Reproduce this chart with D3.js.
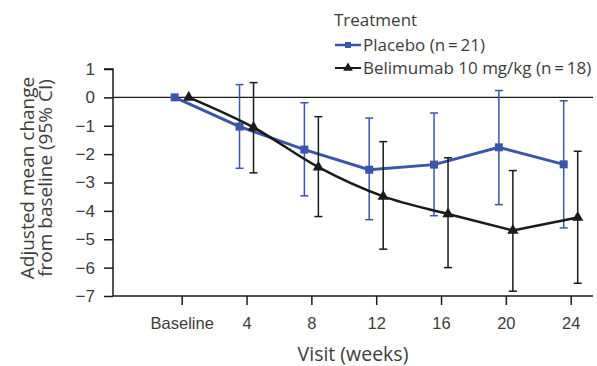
<!DOCTYPE html>
<html>
<head>
<meta charset="utf-8">
<script src="https://cdn.jsdelivr.net/npm/d3@7"></script>
<style>
  body { margin: 0; background: #fff; }
  svg { font-family: "Open Sans", sans-serif; }
</style>
</head>
<body>
<div id="chart"></div>
<script>
const visits = ["Baseline", "4", "8", "12", "16", "20", "24"];

const placeboMean = [0, -1.03, -1.84, -2.55, -2.37, -1.76, -2.36];
const placeboLow = [null, -2.5, -3.47, -4.31, -4.17, -3.78, -4.6];
const placeboHigh = [null, 0.45, -0.19, -0.73, -0.55, 0.24, -0.12];

const belimMean = [0, -1.06, -2.46, -3.49, -4.11, -4.69, -4.23];
const belimLow = [null, -2.66, -4.2, -5.35, -6.0, -6.83, -6.55];
const belimHigh = [null, 0.52, -0.68, -1.56, -2.13, -2.58, -1.9];

const yTicks = [1, 0, -1, -2, -3, -4, -5, -6, -7];

const BLUE = "#3a55a9";
const BLACK = "#1a1a1a";
const TEXT = "#3c3c3c";

const width = 597, height = 366;
const svg = d3.select("#chart").append("svg").attr("width", width).attr("height", height);

const x = d3.scalePoint().domain(visits).range([181.7, 570.7]);
const y = d3.scaleLinear().domain([-7, 1]).range([296, 69]);
const OFF = 7;

// axes
const yAxis = svg.append("g").attr("transform", "translate(113,0)")
  .call(d3.axisLeft(y).tickValues(yTicks).tickSize(9).tickPadding(9).tickFormat(d => d < 0 ? "\u2212" + Math.abs(d) : d));
yAxis.select(".domain").attr("d", "M-9," + y(1) + "H0V" + y(-7)).attr("stroke", BLACK).attr("stroke-width", 1.5);
yAxis.selectAll(".tick line").attr("stroke", BLACK).attr("stroke-width", 1.5);
yAxis.selectAll(".tick text").attr("fill", TEXT).attr("font-size", 17);

const xAxis = svg.append("g").attr("transform", "translate(0,296)")
  .call(d3.axisBottom(x).tickSize(9).tickPadding(12));
xAxis.select(".domain").attr("d", "M113,0H593").attr("stroke", BLACK).attr("stroke-width", 1.5);
xAxis.selectAll(".tick line").attr("stroke", BLACK).attr("stroke-width", 1.5);
xAxis.selectAll(".tick text").attr("fill", TEXT).attr("font-size", 16.5);

// zero line
svg.append("line").attr("x1", 113).attr("x2", 593).attr("y1", y(0)).attr("y2", y(0))
  .attr("stroke", BLACK).attr("stroke-width", 1.2);

// axis titles
svg.append("text").attr("x", 353).attr("y", 361).attr("text-anchor", "middle")
  .attr("fill", TEXT).attr("font-size", 19.5).text("Visit (weeks)");
const yt = svg.append("text").attr("transform", "translate(34,178) rotate(-90)")
  .attr("text-anchor", "middle").attr("fill", TEXT).attr("font-size", 19);
yt.append("tspan").attr("x", 0).attr("dy", 0).text("Adjusted mean change");
yt.append("tspan").attr("x", 0).attr("dy", 18).text("from baseline (95% CI)");

function series(mean, low, high, off, color, lw, curve, marker) {
  const g = svg.append("g");
  const pts = visits.map((v, i) => ({ v, m: mean[i], lo: low[i], hi: high[i] }));
  const bars = pts.filter(d => d.lo !== null);
  g.selectAll("line.eb").data(bars).enter().append("line")
    .attr("x1", d => x(d.v) + off).attr("x2", d => x(d.v) + off)
    .attr("y1", d => y(d.lo)).attr("y2", d => y(d.hi))
    .attr("stroke", color).attr("stroke-width", 1.5);
  ["lo", "hi"].forEach(k => {
    g.selectAll("line.cap" + k).data(bars).enter().append("line")
      .attr("x1", d => x(d.v) + off - 4).attr("x2", d => x(d.v) + off + 4)
      .attr("y1", d => y(d[k])).attr("y2", d => y(d[k]))
      .attr("stroke", color).attr("stroke-width", 1.5);
  });
  const line = d3.line().x(d => x(d.v) + off).y(d => y(d.m));
  if (curve) {
    // smooth through the trough, straight after it
    g.append("path").datum(pts.slice(0, 6))
      .attr("d", line.curve(d3.curveMonotoneX))
      .attr("fill", "none").attr("stroke", color).attr("stroke-width", lw);
    g.append("path").datum(pts.slice(5))
      .attr("d", line.curve(d3.curveLinear))
      .attr("fill", "none").attr("stroke", color).attr("stroke-width", lw);
  } else {
    g.append("path").datum(pts)
      .attr("d", line)
      .attr("fill", "none").attr("stroke", color).attr("stroke-width", lw);
  }
  g.selectAll("path.mk").data(pts).enter().append("path")
    .attr("d", marker)
    .attr("transform", d => `translate(${x(d.v) + off},${y(d.m)})`)
    .attr("fill", color);
}

const sq = d3.symbol(d3.symbolSquare, 64)();
const tri = d3.symbol(d3.symbolTriangle, 55)();

series(placeboMean, placeboLow, placeboHigh, -OFF, BLUE, 3, false, sq);
series(belimMean, belimLow, belimHigh, OFF, BLACK, 2.5, true, tri);

// legend
const lg = svg.append("g");
lg.append("text").attr("x", 334).attr("y", 26).attr("fill", TEXT).attr("font-size", 17).text("Treatment");
const items = [
  { label: "Placebo (n\u2009=\u200921)", color: BLUE, mk: d3.symbol(d3.symbolSquare, 36)(), lw: 2.5 },
  { label: "Belimumab 10 mg/kg (n\u2009=\u200918)", color: BLACK, mk: d3.symbol(d3.symbolTriangle, 40)(), lw: 2 }
];
items.forEach((it, i) => {
  const cy = 45 + i * 23;
  lg.append("line").attr("x1", 335).attr("x2", 361).attr("y1", cy).attr("y2", cy)
    .attr("stroke", it.color).attr("stroke-width", it.lw);
  lg.append("path").attr("d", it.mk).attr("transform", `translate(348,${cy})`).attr("fill", it.color);
  lg.append("text").attr("x", 363).attr("y", cy + 6).attr("fill", TEXT).attr("font-size", 17).text(it.label);
});
</script>
</body>
</html>
